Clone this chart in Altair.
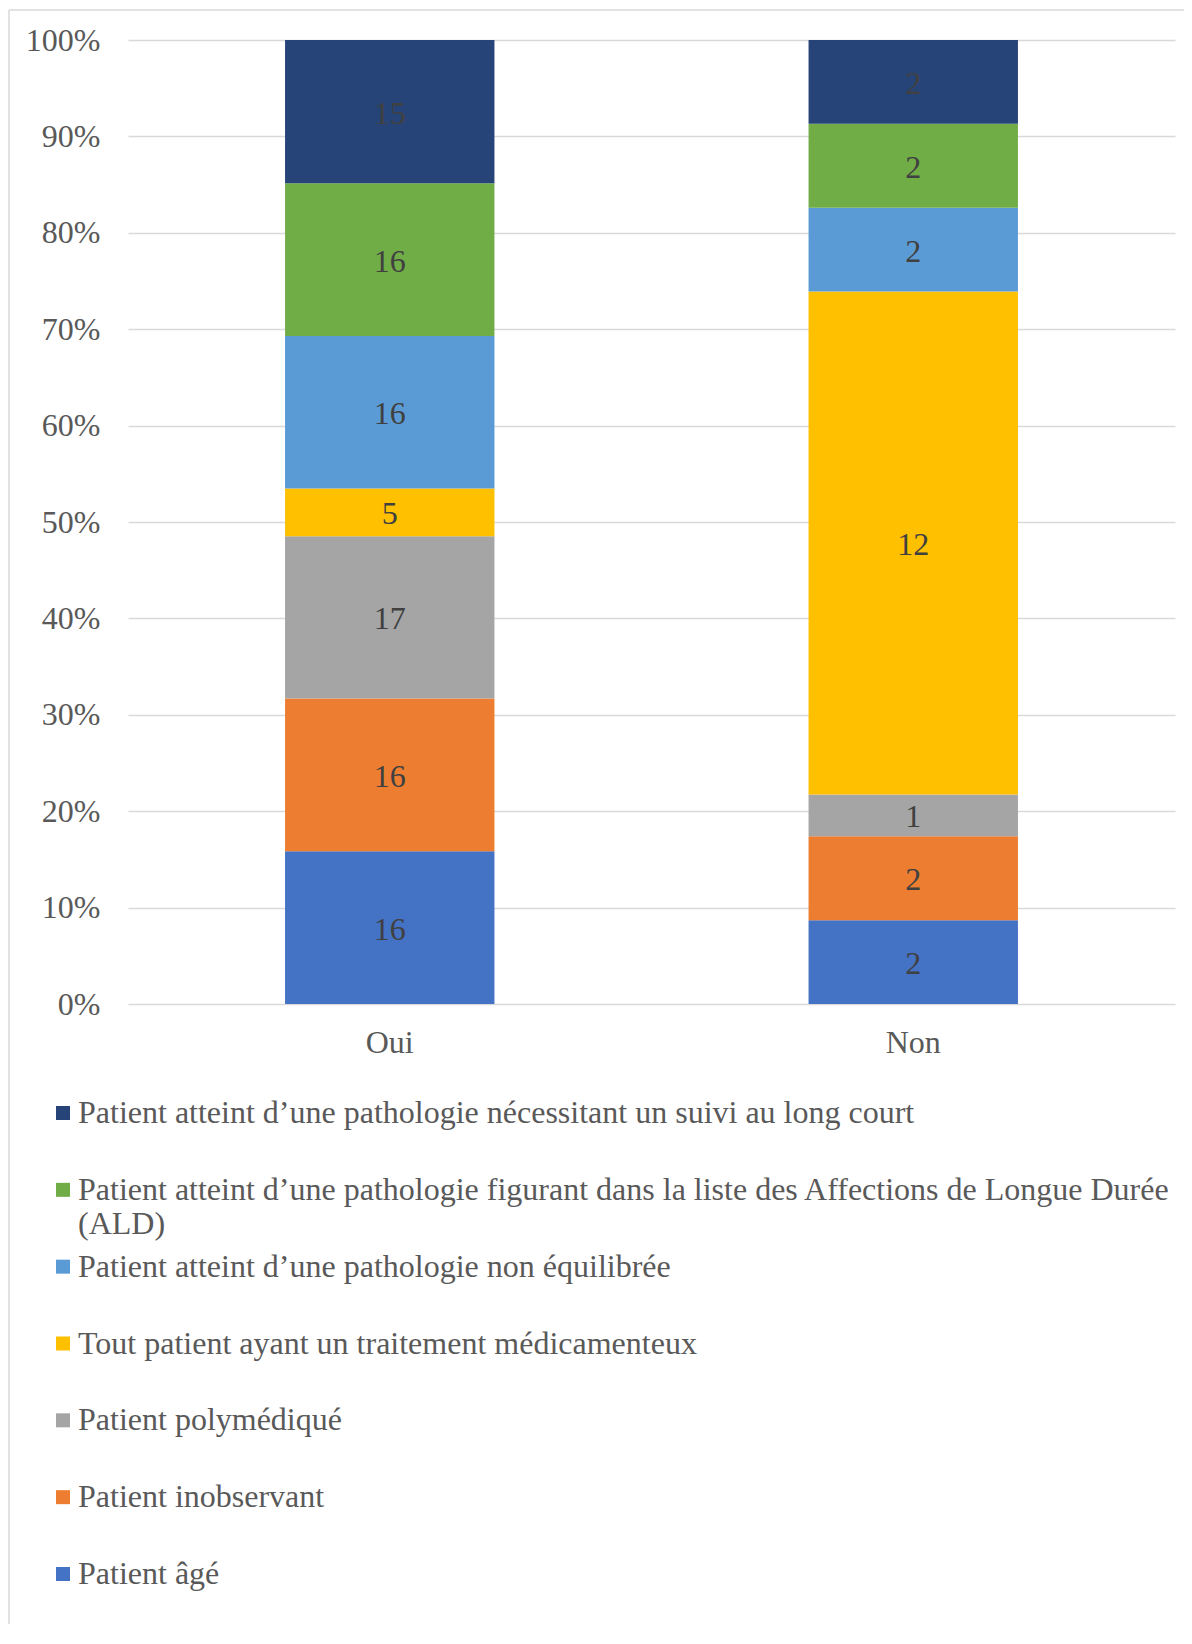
import altair as alt
import pandas as pd

groups = ["Oui", "Non"]
categories = [
    "Patient âgé",
    "Patient inobservant",
    "Patient polymédiqué",
    "Tout patient ayant un traitement médicamenteux",
    "Patient atteint d’une pathologie non équilibrée",
    "Patient atteint d’une pathologie figurant dans la liste des Affections de Longue Durée (ALD)",
    "Patient atteint d’une pathologie nécessitant un suivi au long court",
]
legend_labels = [
    "Patient âgé",
    "Patient inobservant",
    "Patient polymédiqué",
    "Tout patient ayant un traitement médicamenteux",
    "Patient atteint d’une pathologie non équilibrée",
    "Patient atteint d’une pathologie figurant dans la liste des Affections de Longue Durée\n(ALD)",
    "Patient atteint d’une pathologie nécessitant un suivi au long court",
]
oui_counts = [16, 16, 17, 5, 16, 16, 15]
non_counts = [2, 2, 1, 12, 2, 2, 2]
colors = ["#4472C4", "#ED7D31", "#A5A5A5", "#FFC000", "#5B9BD5", "#70AD47", "#264478"]
y_ticks = [0, 0.1, 0.2, 0.3, 0.4, 0.5, 0.6, 0.7, 0.8, 0.9, 1.0]

FONT = "Liberation Serif"
FS = 32
W, H = 1047, 964

rows = []
for g, counts in zip(groups, [oui_counts, non_counts]):
    for i, (c, v) in enumerate(zip(categories, counts)):
        rows.append({"group": g, "cat": c, "order": i, "count": v})
df = pd.DataFrame(rows)

leg_df = pd.DataFrame({"cat": categories, "label": legend_labels})
legend_order = list(reversed(categories))

color_scale = alt.Scale(domain=categories, range=colors)

base = alt.Chart(df).transform_stack(
    stack="count",
    groupby=["group"],
    sort=[alt.SortField("order", order="ascending")],
    as_=["y0", "y1"],
    offset="normalize",
).transform_calculate(ymid="(datum.y0 + datum.y1) / 2")

x_enc = alt.X(
    "group:N",
    sort=groups,
    scale=alt.Scale(paddingInner=0.6, paddingOuter=0.3),
    axis=alt.Axis(
        title=None, labelAngle=0, labelFont=FONT, labelFontSize=FS,
        labelColor="#595959", labelPadding=23, domain=False, ticks=False,
        tickSize=0, grid=False,
    ),
)

bars = base.mark_bar().encode(
    x=x_enc,
    y=alt.Y(
        "y0:Q",
        scale=alt.Scale(domain=[0, 1]),
        axis=alt.Axis(
            title=None, format=".0%", values=y_ticks, labelFont=FONT,
            labelFontSize=FS, labelColor="#595959", labelPadding=28,
            domain=False, ticks=False, tickSize=0, grid=True,
            gridColor="#D9D9D9", gridWidth=1.5,
        ),
    ),
    y2="y1:Q",
    color=alt.Color("cat:N", scale=color_scale, legend=None),
)

texts = base.mark_text(font=FONT, fontSize=FS, color="#404040", baseline="middle", dy=2).encode(
    x=x_enc,
    y=alt.Y("ymid:Q", scale=alt.Scale(domain=[0, 1]), axis=None),
    text="count:Q",
)

leg_y = alt.Y(
    "cat:N", sort=legend_order,
    scale=alt.Scale(type="point", range=[1073, 1534], padding=0),
    axis=None,
)

swatches = alt.Chart(leg_df).mark_square(size=196, opacity=1).encode(
    x=alt.value(-65),
    y=leg_y,
    color=alt.Color("cat:N", scale=color_scale, legend=None),
)

leg_text = alt.Chart(leg_df).mark_text(
    font=FONT, fontSize=FS, color="#595959", align="left",
    baseline="alphabetic", dy=10, lineBreak="\n", lineHeight=34,
).encode(
    x=alt.value(-50),
    y=leg_y,
    text="label:N",
)

frame_df = pd.DataFrame({"k": [0]})
left_line = alt.Chart(frame_df).mark_rule(color="#D9D9D9", strokeWidth=1.5).encode(
    x=alt.value(-119), y=alt.value(-30), y2=alt.value(1620)
)
top_line = alt.Chart(frame_df).mark_rule(color="#D9D9D9", strokeWidth=1.5).encode(
    x=alt.value(-119), x2=alt.value(1070), y=alt.value(-30)
)

chart = alt.layer(
    left_line, top_line, bars, texts, swatches, leg_text
).resolve_scale(y="independent").properties(
    width=W, height=H,
    autosize=alt.AutoSizeParams(type="none"),
    padding={"left": 120, "top": 32, "right": 9, "bottom": 620},
).configure(font=FONT).configure_axis(labelFont=FONT).configure_view(stroke=None)

chart.save("out.html", embed_options={"renderer": "svg", "actions": False})
